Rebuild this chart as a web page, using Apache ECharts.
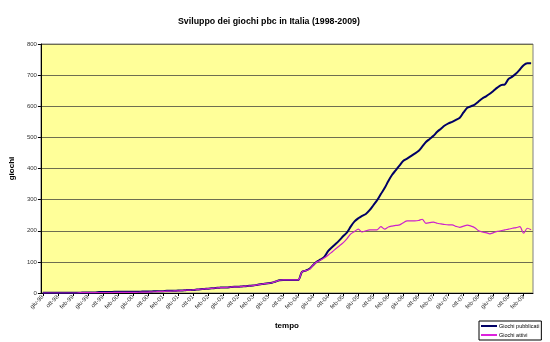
<!DOCTYPE html>
<html>
<head>
<meta charset="utf-8">
<script src="https://cdn.jsdelivr.net/npm/echarts@6/dist/echarts.min.js"></script>
<style>
  html, body { margin: 0; padding: 0; background: #ffffff; }
  #chart { width: 550px; height: 342px; }
</style>
</head>
<body>
<div id="chart"></div>
<script>
// Monthly categories, giu-98 .. apr-09
const months = [
  'giu-98','lug-98','ago-98','set-98','ott-98','nov-98','dic-98',
  'gen-99','feb-99','mar-99','apr-99','mag-99','giu-99','lug-99','ago-99','set-99','ott-99','nov-99','dic-99',
  'gen-00','feb-00','mar-00','apr-00','mag-00','giu-00','lug-00','ago-00','set-00','ott-00','nov-00','dic-00',
  'gen-01','feb-01','mar-01','apr-01','mag-01','giu-01','lug-01','ago-01','set-01','ott-01','nov-01','dic-01',
  'gen-02','feb-02','mar-02','apr-02','mag-02','giu-02','lug-02','ago-02','set-02','ott-02','nov-02','dic-02',
  'gen-03','feb-03','mar-03','apr-03','mag-03','giu-03','lug-03','ago-03','set-03','ott-03','nov-03','dic-03',
  'gen-04','feb-04','mar-04','apr-04','mag-04','giu-04','lug-04','ago-04','set-04','ott-04','nov-04','dic-04',
  'gen-05','feb-05','mar-05','apr-05','mag-05','giu-05','lug-05','ago-05','set-05','ott-05','nov-05','dic-05',
  'gen-06','feb-06','mar-06','apr-06','mag-06','giu-06','lug-06','ago-06','set-06','ott-06','nov-06','dic-06',
  'gen-07','feb-07','mar-07','apr-07','mag-07','giu-07','lug-07','ago-07','set-07','ott-07','nov-07','dic-07',
  'gen-08','feb-08','mar-08','apr-08','mag-08','giu-08','lug-08','ago-08','set-08','ott-08','nov-08','dic-08',
  'gen-09','feb-09','mar-09','apr-09'
];

// Giochi pubblicati (one value per month)
const giochiPubblicati = [
  1,1,1,1,1,1,1,1,1,1,1,2,
  2,2,2,3,3,3,3,4,4,4,4,4,
  4,4,4,5,5,5,6,6,6,7,7,7,
  8,8,9,10,10,11,12,13,14,15,16,17,
  18,18,19,20,20,21,22,23,24,26,28,30,
  31,33,37,41,42,42,42,42,42,68,72,78,
  90,101,108,117,135,147,158,170,183,195,214,230,
  240,248,254,266,282,298,318,337,360,380,395,410,
  425,432,440,448,456,470,485,495,505,518,528,538,
  545,550,556,563,580,595,600,605,615,625,632,640,
  650,660,668,670,688,695,705,718,732,738,738
];

// Giochi attivi (one value per month)
const giochiAttivi = [
  0,0,0,0,0,0,0,0,0,0,1,1,
  1,1,1,1,1,1,1,2,2,2,2,2,
  2,2,3,3,3,4,4,5,5,6,6,7,
  7,8,9,9,10,11,12,13,14,15,16,17,
  17,18,19,20,20,21,22,23,24,26,28,30,
  31,33,37,41,42,42,42,42,42,68,72,76,
  90,100,106,113,122,132,142,152,162,175,190,198,
  205,196,200,203,203,203,213,205,212,215,217,219,
  226,232,232,232,233,237,224,226,228,224,222,220,
  219,219,214,211,215,218,215,210,200,196,194,190,
  194,198,200,203,205,208,210,213,192,208,203
];

const yTicks = [0, 100, 200, 300, 400, 500, 600, 700, 800];

const FONT = '"Liberation Sans", Arial, sans-serif';

const chart = echarts.init(document.getElementById('chart'), null, { renderer: 'canvas' });

chart.setOption({
  animation: false,
  backgroundColor: '#ffffff',
  title: {
    text: 'Sviluppo dei giochi pbc in Italia (1998-2009)',
    left: 173,
    top: 12,
    textStyle: { fontFamily: FONT, fontSize: 8.8, fontWeight: 'bold', color: '#000' }
  },
  legend: {
    orient: 'vertical',
    left: 479,
    top: 321,
    itemWidth: 16,
    itemHeight: 2,
    itemGap: 3,
    padding: [2, 2, 2, 2],
    borderColor: '#000',
    borderWidth: 1,
    backgroundColor: '#ffffff',
    icon: 'rect',
    textStyle: { fontFamily: FONT, fontSize: 5.5, color: '#000', padding: [0, 0, 0, -3] },
    data: ['Giochi pubblicati', 'Giochi attivi']
  },
  grid: {
    left: 37,
    right: 17,
    top: 44,
    bottom: 49,
    show: true,
    backgroundColor: '#ffff99',
    borderColor: '#808080',
    borderWidth: 1
  },
  xAxis: {
    type: 'category',
    data: months,
    boundaryGap: true,
    name: 'tempo',
    nameLocation: 'middle',
    nameGap: 29,
    nameTextStyle: { fontFamily: FONT, fontSize: 8, fontWeight: 'bold', color: '#000' },
    axisLine: { lineStyle: { color: '#000', width: 1 } },
    axisTick: { show: true, interval: 3, alignWithLabel: true, length: 3, lineStyle: { color: '#000' } },
    axisLabel: {
      interval: 3,
      rotate: 45,
      fontFamily: FONT,
      fontSize: 6,
      color: '#333',
      margin: 3
    },
    splitLine: { show: false }
  },
  yAxis: {
    type: 'value',
    min: yTicks[0],
    max: yTicks[yTicks.length - 1],
    interval: 100,
    name: 'giochi',
    nameLocation: 'middle',
    nameGap: 21,
    nameTextStyle: { fontFamily: FONT, fontSize: 8, fontWeight: 'bold', color: '#000' },
    axisLine: { show: true, lineStyle: { color: '#000', width: 1 } },
    axisTick: { show: true, length: 3, lineStyle: { color: '#000' } },
    axisLabel: { fontFamily: FONT, fontSize: 6, color: '#333', margin: 4 },
    splitLine: { show: true, lineStyle: { color: '#6e6e50', width: 1 } }
  },
  series: [
    {
      name: 'Giochi pubblicati',
      type: 'line',
      data: giochiPubblicati,
      symbol: 'none',
      smooth: 0.3,
      z: 3,
      itemStyle: { color: '#000066' },
      lineStyle: { color: '#000066', width: 2 }
    },
    {
      name: 'Giochi attivi',
      type: 'line',
      data: giochiAttivi,
      symbol: 'none',
      smooth: 0.3,
      z: 4,
      itemStyle: { color: '#dd22dd' },
      lineStyle: { color: '#cc22cc', width: 1.2 }
    }
  ]
});
</script>
</body>
</html>
